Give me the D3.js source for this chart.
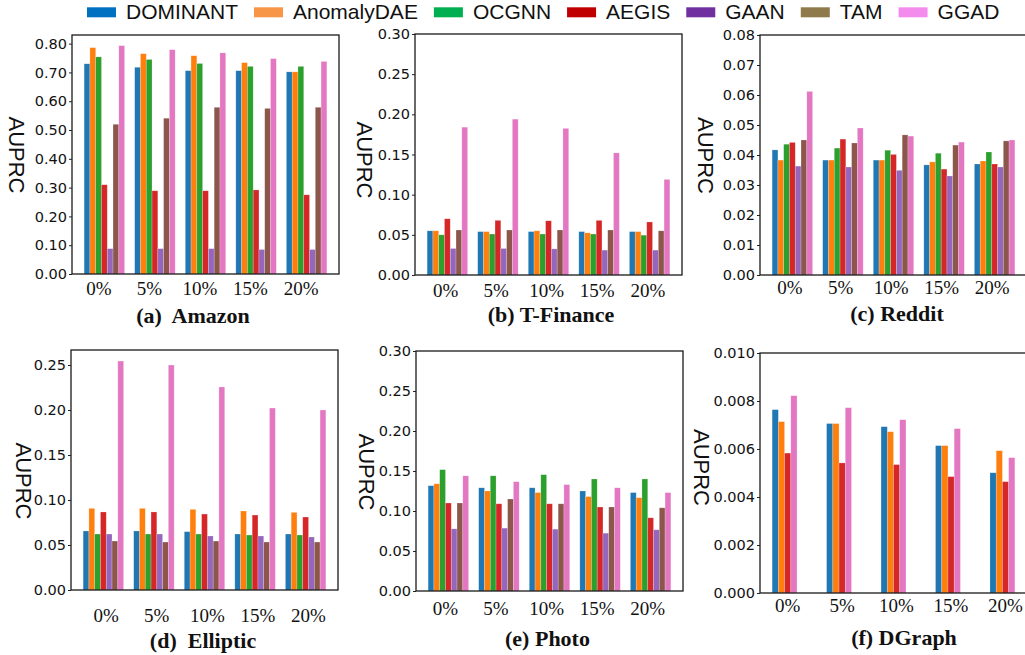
<!DOCTYPE html>
<html>
<head>
<meta charset="utf-8">
<script src="https://cdn.jsdelivr.net/npm/d3@7/dist/d3.min.js"></script>
<style>
  html, body { margin: 0; padding: 0; background: #fff; }
  svg { display: block; }
</style>
</head>
<body>
<svg id="chart" width="1025" height="655"></svg>
<script>
// ---------------- data ----------------
const groups = ["0%", "5%", "10%", "15%", "20%"];
const methods = ["DOMINANT", "AnomalyDAE", "OCGNN", "AEGIS", "GAAN", "TAM", "GGAD"];
const barColors = ["#1f77b4", "#ff7f0e", "#2ca02c", "#d62728", "#9467bd", "#8c564b", "#e377c2"];
const legendColors = ["#0070C0", "#F79646", "#00B050", "#C00000", "#7030A0", "#8F7A4B", "#F48CEE"];

// rows = groups (0%..20%), columns = methods
const amazonValues = [
  [0.730, 0.786, 0.754, 0.310, 0.088, 0.520, 0.793],
  [0.718, 0.765, 0.745, 0.289, 0.088, 0.541, 0.779],
  [0.706, 0.758, 0.731, 0.289, 0.088, 0.579, 0.768],
  [0.706, 0.734, 0.721, 0.292, 0.085, 0.575, 0.748],
  [0.702, 0.702, 0.721, 0.275, 0.085, 0.579, 0.738]
];
const tfinanceValues = [
  [0.055, 0.055, 0.050, 0.070, 0.033, 0.056, 0.184],
  [0.054, 0.054, 0.051, 0.068, 0.033, 0.056, 0.194],
  [0.054, 0.055, 0.051, 0.0675, 0.0325, 0.056, 0.1825],
  [0.054, 0.0525, 0.051, 0.068, 0.031, 0.056, 0.152],
  [0.054, 0.054, 0.0496, 0.066, 0.031, 0.055, 0.119]
];
const redditValues = [
  [0.0417, 0.0383, 0.0436, 0.0442, 0.0363, 0.0450, 0.0612],
  [0.0383, 0.0383, 0.0423, 0.0453, 0.0360, 0.0440, 0.0490],
  [0.0383, 0.0383, 0.0416, 0.0402, 0.0349, 0.0467, 0.0463],
  [0.0367, 0.0377, 0.0406, 0.0353, 0.0330, 0.0433, 0.0443],
  [0.0370, 0.0380, 0.0410, 0.0370, 0.0360, 0.0447, 0.0450]
];
const ellipticValues = [
  [0.0656, 0.0907, 0.0622, 0.0867, 0.0622, 0.0544, 0.2544],
  [0.0656, 0.0907, 0.0622, 0.0867, 0.0622, 0.0533, 0.2500],
  [0.0648, 0.0896, 0.0622, 0.0844, 0.0600, 0.0544, 0.2256],
  [0.0622, 0.0878, 0.0611, 0.0833, 0.0600, 0.0533, 0.2022],
  [0.0622, 0.0863, 0.0611, 0.0811, 0.0589, 0.0533, 0.2000]
];
const photoValues = [
  [0.1316, 0.1340, 0.1517, 0.1100, 0.0777, 0.1100, 0.1440],
  [0.1290, 0.1250, 0.1440, 0.1090, 0.0786, 0.1150, 0.1366],
  [0.1290, 0.1230, 0.1454, 0.1090, 0.0773, 0.1090, 0.1330],
  [0.1250, 0.1180, 0.1400, 0.1050, 0.0723, 0.1050, 0.1290],
  [0.1230, 0.1166, 0.1400, 0.0915, 0.0765, 0.1040, 0.1230]
];
// OCGNN, GAAN and TAM have no result on DGraph
const dgraphValues = [
  [0.00764, 0.00714, null, 0.00583, null, null, 0.00822],
  [0.00706, 0.00706, null, 0.00542, null, null, 0.00772],
  [0.00693, 0.00672, null, 0.00535, null, null, 0.00722],
  [0.00614, 0.00614, null, 0.00485, null, null, 0.00685],
  [0.00501, 0.00593, null, 0.00464, null, null, 0.00564]
];

const ticksA = [0, 0.1, 0.2, 0.3, 0.4, 0.5, 0.6, 0.7, 0.8];
const ticksB = [0, 0.05, 0.10, 0.15, 0.20, 0.25, 0.30];
const ticksC = [0, 0.01, 0.02, 0.03, 0.04, 0.05, 0.06, 0.07, 0.08];
const ticksD = [0, 0.05, 0.10, 0.15, 0.20, 0.25];
const ticksE = [0, 0.05, 0.10, 0.15, 0.20, 0.25, 0.30];
const ticksF = [0, 0.002, 0.004, 0.006, 0.008, 0.010];

// ---------------- layout ----------------
const panels = [
  { title: "(a)  Amazon", values: amazonValues, ticks: ticksA, fmt: ".2f", yMax: 0.83,
    x0: 72, x1: 339, y0: 35, y1: 274, tickOff: 2.45, labelBase: 294.5,
    titleX: 193, titleBase: 323, ylabX: 16.5, ylabY: 155 },
  { title: "(b) T-Finance", values: tfinanceValues, ticks: ticksB, fmt: ".2f", yMax: 0.30,
    x0: 415, x1: 682, y0: 34, y1: 275, tickOff: 3.1, labelBase: 296.5,
    titleX: 551, titleBase: 321.5, ylabX: 364, ylabY: 160 },
  { title: "(c) Reddit", values: redditValues, ticks: ticksC, fmt: ".2f", yMax: 0.08,
    x0: 760, x1: 1027, y0: 35, y1: 275, tickOff: 3.0, labelBase: 293.5,
    titleX: 897, titleBase: 321, ylabX: 705, ylabY: 155.5 },
  { title: "(d)  Elliptic", values: ellipticValues, ticks: ticksD, fmt: ".2f", yMax: 0.2667,
    x0: 71, x1: 338, y0: 350, y1: 590, tickOff: 3.9, labelBase: 621.5,
    titleX: 203, titleBase: 648, ylabX: 23, ylabY: 481 },
  { title: "(e) Photo", values: photoValues, ticks: ticksE, fmt: ".2f", yMax: 0.30,
    x0: 416, x1: 683, y0: 351, y1: 591, tickOff: 2.9, labelBase: 615,
    titleX: 547.5, titleBase: 645.5, ylabX: 366, ylabY: 472 },
  { title: "(f) DGraph", values: dgraphValues, ticks: ticksF, fmt: ".3f", yMax: 0.010,
    x0: 760, x1: 1027, y0: 353, y1: 593, tickOff: 2.4, labelBase: 611.5,
    titleX: 904, titleBase: 645, ylabX: 701, ylabY: 467.5 }
];

const svg = d3.select("#chart");
const BW = 0.8 / 7;   // bar width in group units

panels.forEach(p => {
  const present = methods.map((m, j) => j).filter(j => p.values.some(r => r[j] !== null));
  const n = present.length;
  const span = (groups.length - 1) + n * BW;
  const margin = 0.05 * span;
  const x = d3.scaleLinear().domain([-margin, span + margin]).range([p.x0, p.x1]);
  const y = d3.scaleLinear().domain([0, p.yMax]).range([p.y1, p.y0]);
  const g = svg.append("g");

  // bars
  const bars = [];
  p.values.forEach((row, gi) => {
    present.forEach((j, k) => {
      bars.push({ gi, j, k, v: row[j] });
    });
  });
  g.selectAll("rect.bar").data(bars).join("rect")
    .attr("class", "bar")
    .attr("x", d => x(d.gi + d.k * BW))
    .attr("width", d => x(BW) - x(0))
    .attr("y", d => y(d.v))
    .attr("height", d => y(0) - y(d.v))
    .attr("fill", d => barColors[d.j])
    .attr("stroke", "#ffffff")
    .attr("stroke-opacity", 0.35)
    .attr("stroke-width", 0.6);

  // y axis
  const yAxis = g.append("g")
    .attr("transform", `translate(${p.x0},0)`)
    .call(d3.axisLeft(y).tickValues(p.ticks).tickFormat(d3.format(p.fmt)).tickSize(3).tickPadding(2));
  yAxis.select(".domain").remove();
  yAxis.selectAll(".tick line").attr("stroke", "#222").attr("stroke-width", 1);
  yAxis.selectAll("text")
    .attr("font-family", "'DejaVu Sans', sans-serif")
    .attr("font-size", 14.5)
    .attr("fill", "#111");

  // x axis labels
  const xAxis = g.append("g")
    .attr("transform", `translate(0,${p.y1})`)
    .call(d3.axisBottom(x)
      .tickValues(groups.map((d, i) => i + p.tickOff * BW))
      .tickFormat((d, i) => groups[i])
      .tickSize(0));
  xAxis.select(".domain").remove();
  xAxis.selectAll("text")
    .attr("dy", null)
    .attr("y", p.labelBase - p.y1)
    .attr("font-family", "'Liberation Serif', 'Times New Roman', serif")
    .attr("font-size", 19)
    .attr("fill", "#111");

  // frame
  g.append("rect")
    .attr("x", p.x0).attr("y", p.y0)
    .attr("width", p.x1 - p.x0).attr("height", p.y1 - p.y0)
    .attr("fill", "none").attr("stroke", "#1a1a1a").attr("stroke-width", 1.3);

  // y label
  g.append("text")
    .attr("transform", `translate(${p.ylabX},${p.ylabY}) rotate(90)`)
    .attr("text-anchor", "middle")
    .attr("dominant-baseline", "central")
    .attr("font-family", "'Liberation Sans', Arial, sans-serif")
    .attr("font-size", 22)
    .attr("fill", "#111")
    .text("AUPRC");

  // title
  g.append("text")
    .attr("x", p.titleX).attr("y", p.titleBase)
    .attr("text-anchor", "middle")
    .attr("font-family", "'Liberation Serif', 'Times New Roman', serif")
    .attr("font-weight", "bold")
    .attr("font-size", 22)
    .attr("fill", "#111")
    .style("white-space", "pre")
    .text(p.title);
});

// legend
const legend = svg.append("g");
let lx = 87;
methods.forEach((m, i) => {
  legend.append("rect")
    .attr("x", lx).attr("y", 7.3).attr("width", 29).attr("height", 10)
    .attr("fill", legendColors[i]);
  const t = legend.append("text")
    .attr("x", lx + 39).attr("y", 18.5)
    .attr("font-family", "'Liberation Sans', Arial, sans-serif")
    .attr("font-size", 21)
    .attr("fill", "#111")
    .text(m);
  lx = lx + 39 + t.node().getComputedTextLength() + 16;
});
</script>
</body>
</html>
